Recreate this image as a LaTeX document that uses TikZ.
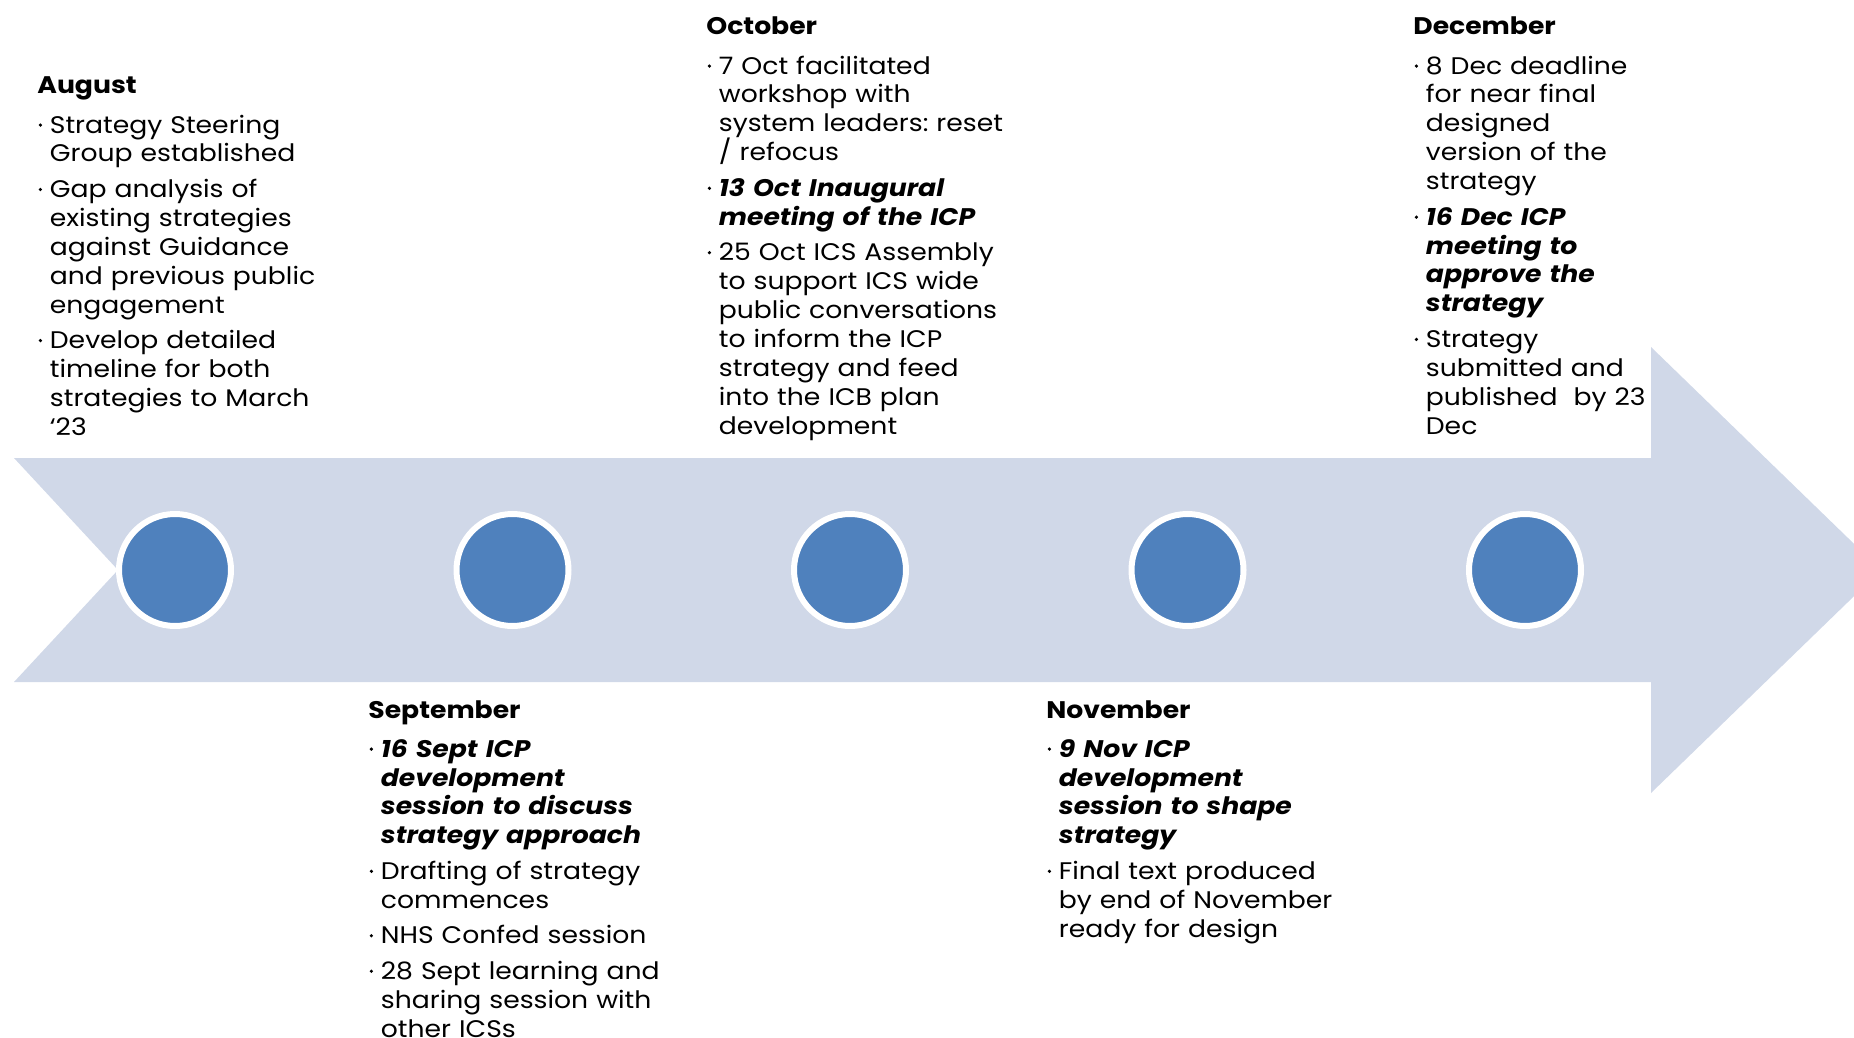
\documentclass[tikz,border=0pt]{standalone}
\usepackage{fontspec}
\setmainfont{Poppins}[FakeStretch=1.11]
\frenchspacing
\definecolor{arrowc}{HTML}{D0D8E8}
\definecolor{dotc}{HTML}{4F81BD}
\newcommand\bul{\tikz[baseline=0pt]\fill (0pt,4pt) circle (0.9pt);}
\newcommand\itm[1]{\par\vspace{3.3pt}\hangindent=6.25pt\hangafter=1\noindent\makebox[6.25pt][l]{\kern0.6pt\bul}{\let\\\newline #1}\par}
\newcommand\bi[1]{\textbf{\textit{#1}}}
\newcommand\hd[1]{\noindent\textbf{#1}\par\vspace{1.8pt}}
\tikzset{
  blk/.style={anchor=base west, inner sep=0pt, text width=170pt, align=left,
    font=\fontsize{12pt}{14.45pt}\selectfont\frenchspacing},
  dot/.style={circle, fill=dotc, draw=white, line width=3pt, minimum size=56pt, inner sep=0pt}
}
\begin{document}
\begin{tikzpicture}[x=0.5pt,y=-0.5pt]
\useasboundingbox (0,0) rectangle (1854,1038);
\clip (0,0) rectangle (1854,1038);
\fill[arrowc] (14,458) -- (1651,458) -- (1651,347) -- (1881,570) -- (1651,793)
  -- (1651,682) -- (14,682) -- (118,570) -- cycle;
\foreach \i/\x in {1/175,2/512.5,3/850,4/1187.5,5/1525}
  \node[dot] (c\i) at (\x,570) {};
\node[blk] (aug) at (37,94) {\hd{August}
\itm{Strategy Steering\\Group established}
\itm{Gap analysis of\\existing strategies\\against Guidance\\and previous public\\engagement}
\itm{Develop detailed\\timeline for both\\strategies to March\\‘23}};
\node[blk] (sep) at (368,718) {\hd{September}
\itm{\bi{16 Sept ICP\\development\\session to discuss\\strategy approach}}
\itm{Drafting of strategy\\commences}
\itm{NHS Confed session}
\itm{28 Sept learning and\\sharing session with\\other ICSs}};
\node[blk] (oct) at (706,35) {\hd{October}
\itm{7 Oct facilitated\\workshop with\\system leaders: reset\\/ refocus}
\itm{\bi{13 Oct Inaugural\\meeting of the ICP}}
\itm{25 Oct ICS Assembly\\to support ICS wide\\public conversations\\to inform the ICP\\strategy and feed\\into the ICB plan\\development}};
\node[blk] (nov) at (1046,718) {\hd{November}
\itm{\bi{9 Nov ICP\\development\\session to shape\\strategy}}
\itm{Final text produced\\by end of November\\ready for design}};
\node[blk] (dec) at (1413,35) {\hd{December}
\itm{8 Dec deadline\\for near final\\designed\\version of the\\strategy}
\itm{\bi{16 Dec ICP\\meeting to\\approve the\\strategy}}
\itm{Strategy\\submitted and\\published\ \ by 23\\Dec}};
\end{tikzpicture}
\end{document}
